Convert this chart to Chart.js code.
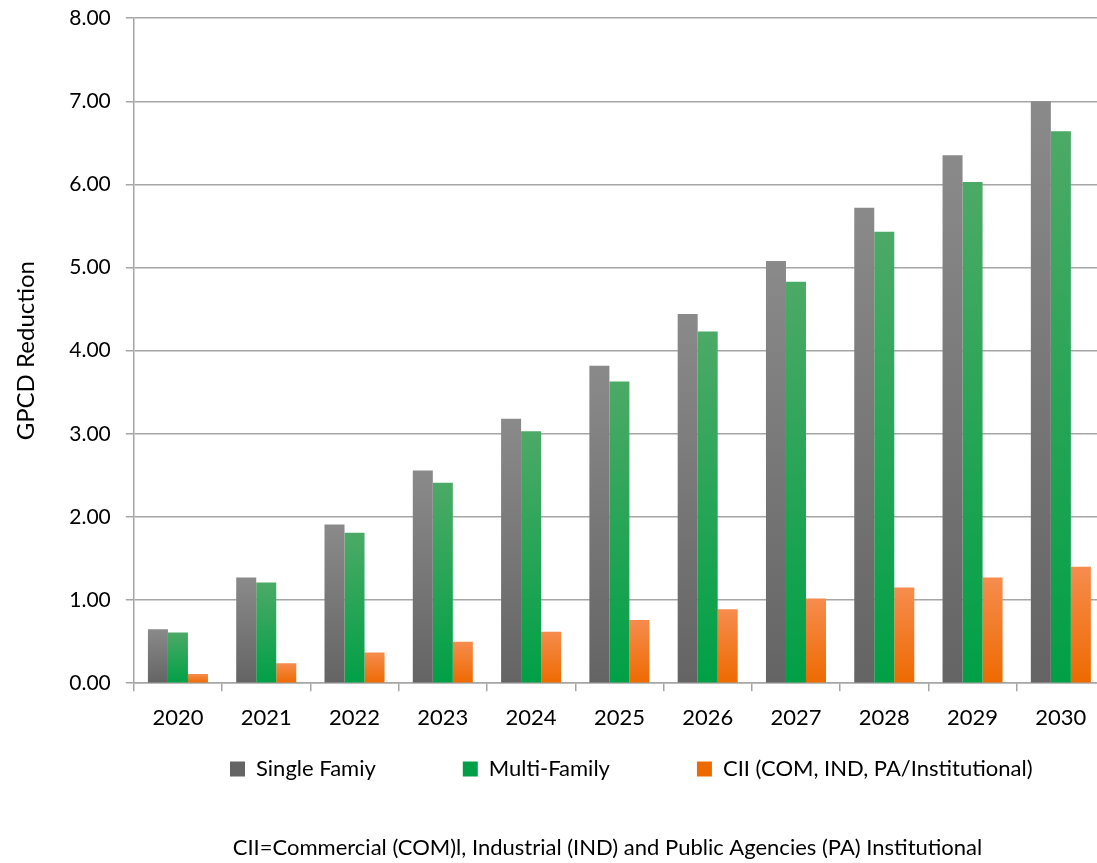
<!DOCTYPE html>
<html>
<head>
<meta charset="utf-8">
<script src="https://cdn.jsdelivr.net/npm/chart.js@4/dist/chart.umd.min.js"></script>
<style>
  html, body { margin: 0; padding: 0; background: #ffffff; overflow: hidden; }
  #wrap { position: absolute; left: 0; top: 0; width: 1105px; height: 863px; }
</style>
</head>
<body>
<div id="wrap"><canvas id="c" width="1105" height="863"></canvas></div>
<script>
// Annual GPCD reduction by customer sector
const years = ['2020', '2021', '2022', '2023', '2024', '2025', '2026', '2027', '2028', '2029', '2030'];
const singleFamily = [0.65, 1.27, 1.91, 2.56, 3.18, 3.82, 4.44, 5.08, 5.72, 6.35, 7.00];
const multiFamily = [0.61, 1.21, 1.81, 2.41, 3.03, 3.63, 4.23, 4.83, 5.43, 6.03, 6.64];
const cii = [0.11, 0.24, 0.37, 0.50, 0.62, 0.76, 0.89, 1.02, 1.15, 1.27, 1.40];
const seriesNames = ['Single Famiy', 'Multi-Family', 'CII (COM, IND, PA/Institutional)'];
const footnote = 'CII=Commercial (COM)l, Industrial (IND) and Public Agencies (PA) Institutional';

const palettes = [
  ['#8a8a8a', '#646464'],
  ['#4caa66', '#00a046'],
  ['#f68c4e', '#ee6a00']
];

// vertical gradient across each individual bar
function barFill(idx) {
  return function (ctx) {
    const chart = ctx.chart;
    const area = chart.chartArea;
    if (!area || ctx.type !== 'data') return palettes[idx][1];
    const y = chart.scales.y;
    const top = y.getPixelForValue(ctx.raw);
    const bottom = y.getPixelForValue(0);
    if (!isFinite(top) || !isFinite(bottom) || bottom - top < 1) return palettes[idx][1];
    const g = chart.ctx.createLinearGradient(0, top, 0, bottom);
    g.addColorStop(0, palettes[idx][0]);
    g.addColorStop(1, palettes[idx][1]);
    return g;
  };
}

// place the legend row and the footnote line below the axis
const LEGEND_PAD = 87;
const LEGEND_FONT = 22;
const placeBottomBoxes = {
  id: 'placeBottomBoxes',
  afterLayout(chart) {
    const lg = chart.legend;
    if (lg) {
      const w = lg.width;
      const fullH = LEGEND_FONT + LEGEND_PAD + 10;
      lg.top = 769 - LEGEND_FONT / 2 - LEGEND_PAD;
      lg.height = fullH;
      lg.bottom = lg.top + fullH;
      lg.left = 230 - LEGEND_PAD;
      lg.right = lg.left + w;
    }
    const tt = chart.titleBlock;
    if (tt) {
      const h = tt.height;
      tt.top = 848 - 13.2;
      tt.bottom = tt.top + h;
      tt.left += 51;
      tt.right += 51;
    }
  }
};

const uiFont = 'Lato, "Open Sans", "Liberation Sans", sans-serif';

new Chart(document.getElementById('c'), {
  type: 'bar',
  data: {
    labels: years,
    datasets: [
      { label: seriesNames[0], data: singleFamily, backgroundColor: barFill(0) },
      { label: seriesNames[1], data: multiFamily, backgroundColor: barFill(1) },
      { label: seriesNames[2], data: cii, backgroundColor: barFill(2) }
    ]
  },
  plugins: [placeBottomBoxes],
  options: {
    responsive: false,
    animation: false,
    layout: { padding: { left: 8, top: 0, right: 0, bottom: 6 } },
    datasets: { bar: { categoryPercentage: 0.68, barPercentage: 1.0 } },
    scales: {
      x: {
        grid: { display: true, drawOnChartArea: false, drawTicks: true, tickLength: 8, color: '#a6a6a6', lineWidth: 1.5, offset: true },
        border: { display: true, color: '#a6a6a6', width: 1.5 },
        ticks: { color: '#000000', font: { family: uiFont, size: 22 }, padding: 14, maxRotation: 0 }
      },
      y: {
        min: 0, max: 8,
        grid: { color: '#a6a6a6', lineWidth: 1.5, tickLength: 8 },
        border: { display: true, color: '#a6a6a6', width: 1.5 },
        ticks: {
          stepSize: 1, color: '#000000', padding: 15,
          font: { family: uiFont, size: 21, lineHeight: 0.3 },
          callback: v => Number(v).toFixed(2)
        },
        title: { display: true, text: 'GPCD Reduction', color: '#000000', font: { family: uiFont, size: 24 }, padding: { top: 4, bottom: 13.5 } }
      }
    },
    plugins: {
      legend: {
        position: 'bottom',
        align: 'start',
        maxHeight: 85,
        labels: {
          color: '#000000',
          font: { family: uiFont, size: LEGEND_FONT },
          boxWidth: 15, boxHeight: 15, padding: LEGEND_PAD,
          generateLabels: chart => chart.data.datasets.map((ds, i) => ({
            text: ds.label, fillStyle: palettes[i][1], strokeStyle: palettes[i][1], lineWidth: 0, datasetIndex: i, hidden: false
          }))
        }
      },
      title: {
        display: true, position: 'bottom', text: footnote, color: '#000000',
        font: { family: uiFont, size: 22, weight: 'normal' }, padding: 0
      },
      tooltip: { enabled: false }
    }
  }
});
</script>
</body>
</html>
